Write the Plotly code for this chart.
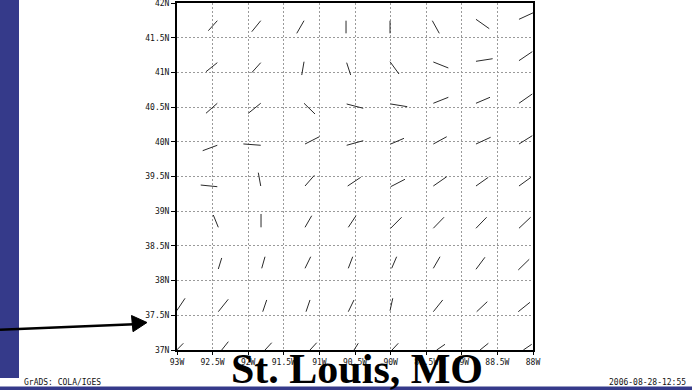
import plotly.graph_objects as go

# ---------------- data ----------------
# grid-point positions (deg) and vector components (units of 0.01 deg)
vec_lon = [
    -92.434, -91.824, -91.216, -90.626, -90.008, -89.414, -88.801, -88.197,
    -92.434, -91.824, -91.216, -90.617, -90.008, -89.400, -88.801, -88.197,
    -92.434, -91.824, -91.216, -90.617, -89.999, -89.400, -88.801, -88.197,
    -92.434, -91.824, -91.202, -90.617, -89.999, -89.400, -88.801, -88.197,
    -92.434, -91.824, -91.202, -90.603, -89.999, -89.400, -88.801, -88.197,
    -92.420, -91.820, -91.202, -90.594, -89.999, -89.400, -88.801, -88.197,
    -92.420, -91.810, -91.202, -90.594, -89.985, -89.400, -88.801, -88.207,
    -93.004, -92.420, -91.796, -91.188, -90.594, -90.008, -89.400, -88.791, -88.207,
    -93.004, -92.372, -91.764, -91.132, -90.514, -89.980, -89.353, -88.744, -88.136,
]
vec_lat = [
    41.745, 41.745, 41.745, 41.745, 41.745, 41.745, 41.765, 41.765,
    41.140, 41.140, 41.154, 41.140, 41.154, 41.150, 41.160, 41.169,
    40.555, 40.555, 40.555, 40.545, 40.545, 40.555, 40.555, 40.555,
    39.950, 39.950, 39.968, 39.950, 39.968, 39.968, 39.968, 39.968,
    39.353, 39.363, 39.363, 39.363, 39.353, 39.363, 39.363, 39.363,
    38.768, 38.768, 38.768, 38.768, 38.754, 38.754, 38.754, 38.754,
    38.167, 38.177, 38.177, 38.177, 38.177, 38.177, 38.163, 38.153,
    37.566, 37.552, 37.552, 37.552, 37.552, 37.566, 37.552, 37.552, 37.552,
    37.000, 37.000, 37.000, 37.000, 37.000, 37.000, 37.000, 37.000, 37.000,
]
vec_u = [
    -12.6, -12.6, -10.2, 0.0, 0.0, 9.8, 18.7, 20.1,
    -15.9, -12.6, -3.2, 5.6, 12.6, 21.1, 23.4, 18.7,
    -15.9, -17.4, 15.4, 23.3, 23.3, 21.1, 19.7, 18.7,
    -20.5, -24.4, 20.1, 23.3, 18.7, 18.8, 20.6, 18.7,
    -23.3, -3.4, 13.1, 18.3, 20.1, 18.8, 17.3, 16.8,
    -7.0, 0.0, 9.4, 10.8, 15.4, 15.0, 15.0, 16.4,
    4.8, 4.6, 8.0, 6.2, 7.0, 9.4, 12.6, 15.4,
    11.7, 14.0, 5.6, 5.6, 8.0, 3.8, 13.2, 14.9, 16.4,
    9.3, 9.3, 9.4, 9.4, 6.0, 8.8, 11.7, 11.7, 11.8,
]
vec_v = [
    -14.4, -15.9, -18.2, -18.2, -18.2, -18.2, -13.5, 9.5,
    -13.0, -14.4, -19.2, -17.7, -17.7, -8.6, 3.7, 13.0,
    -14.4, -14.4, -15.4, -6.2, -3.9, 8.6, 8.6, 13.4,
    -7.8, 1.9, 10.5, 6.6, 8.2, 10.5, 9.7, 12.0,
    2.4, 19.2, 15.4, 12.5, 10.7, 13.4, 12.5, 12.5,
    17.7, 19.2, 16.7, 16.7, 15.9, 15.9, 15.9, 15.9,
    15.9, 16.7, 16.7, 16.7, 16.7, 16.7, 17.3, 15.4,
    17.9, 17.9, 16.9, 16.9, 16.9, 17.9, 16.9, 14.4, 13.5,
    9.7, 12.0, 10.5, 10.5, 9.7, 9.7, 8.2, 9.7, 8.2,
]

lon_ticks = [-93, -92.5, -92, -91.5, -91, -90.5, -90, -89.5, -89, -88.5, -88]
lon_labels = ["93W", "92.5W", "92W", "91.5W", "91W", "90.5W", "90W",
              "89.5W", "89W", "88.5W", "88W"]
lat_ticks = [37, 37.5, 38, 38.5, 39, 39.5, 40, 40.5, 41, 41.5, 42]
lat_labels = ["37N", "37.5N", "38N", "38.5N", "39N", "39.5N", "40N",
              "40.5N", "41N", "41.5N", "42N"]

title_text = "St. Louis, MO"
left_note = "GrADS: COLA/IGES"
right_note = "2006-08-28-12:55"

# ---------------- layout constants ----------------
W, H = 692, 390
PL, PR, PT, PB = 177, 533, 3, 350          # plot area in pixels
X0, X1, Y0, Y1 = -93.0, -88.0, 37.0, 42.0
SCALE = 0.01                               # deg per vector unit
BLUE = "#353a8a"


def px(x):
    return (x - PL) / (PR - PL)


def py(y):
    return (PB - y) / (PB - PT)


# build vector segments
xs, ys = [], []
for lo, la, u, v in zip(vec_lon, vec_lat, vec_u, vec_v):
    xs += [lo, lo + u * SCALE, None]
    ys += [la, la + v * SCALE, None]

fig = go.Figure()
fig.add_trace(go.Scatter(x=xs, y=ys, mode="lines",
                         line=dict(color="#2a2a2a", width=1),
                         hoverinfo="skip", showlegend=False))

small_font = dict(family="DejaVu Sans Mono", size=8, color="#111111")

axis_common = dict(
    showgrid=True, gridcolor="#9a9a9a", griddash="2px,2px", gridwidth=1,
    showline=True, linecolor="black", linewidth=2, mirror=True,
    ticks="outside", tickcolor="black", tickfont=small_font,
    zeroline=False, fixedrange=True, automargin=False,
    ticklabeloverflow="allow",
)

fig.update_layout(
    width=W, height=H,
    margin=dict(l=PL, r=W - PR, t=PT, b=H - PB, pad=0, autoexpand=False),
    paper_bgcolor="white", plot_bgcolor="white",
    showlegend=False,
    xaxis=dict(range=[X0, X1], tickvals=lon_ticks, ticktext=lon_labels,
               ticklen=3, **axis_common),
    yaxis=dict(range=[Y0, Y1], tickvals=lat_ticks, ticktext=lat_labels,
               ticklen=4, **axis_common),
)

shapes = [
    # left blue bar
    dict(type="rect", xref="paper", yref="paper", layer="below",
         x0=px(0), x1=px(19), y0=py(0), y1=py(378),
         fillcolor=BLUE, line=dict(width=0)),
    # bottom blue bar
    dict(type="rect", xref="paper", yref="paper", layer="below",
         x0=px(0), x1=px(W), y0=py(386.5), y1=py(H),
         fillcolor=BLUE, line=dict(width=0)),
    # pointer arrow shaft
    dict(type="line", xref="paper", yref="paper",
         x0=px(0), y0=py(329.7), x1=px(134), y1=py(324.3),
         line=dict(color="black", width=2.5)),
    # pointer arrow head
    dict(type="path", xref="paper", yref="paper",
         path="M {} {} L {} {} L {} {} Z".format(px(131.5), py(315.5),
                                                 px(147), py(322.5),
                                                 px(133), py(331.7)),
         fillcolor="black", line=dict(color="black", width=1)),
]
fig.update_layout(shapes=shapes)

fig.add_annotation(text="<b>" + title_text + "</b>", xref="paper", yref="paper",
                   x=px(357), y=py(369), xanchor="center", yanchor="middle",
                   showarrow=False,
                   font=dict(family="Liberation Serif", size=42, color="black"))
fig.add_annotation(text=left_note, xref="paper", yref="paper",
                   x=px(22), y=py(382.5), xanchor="left", yanchor="middle",
                   showarrow=False, font=small_font)
fig.add_annotation(text=right_note, xref="paper", yref="paper",
                   x=px(688), y=py(382.5), xanchor="right", yanchor="middle",
                   showarrow=False, font=small_font)

fig.write_html("out.html",
               config={"displayModeBar": False, "staticPlot": True},
               post_script="document.body.style.margin='0px';"
                           "document.body.style.overflow='hidden';")
